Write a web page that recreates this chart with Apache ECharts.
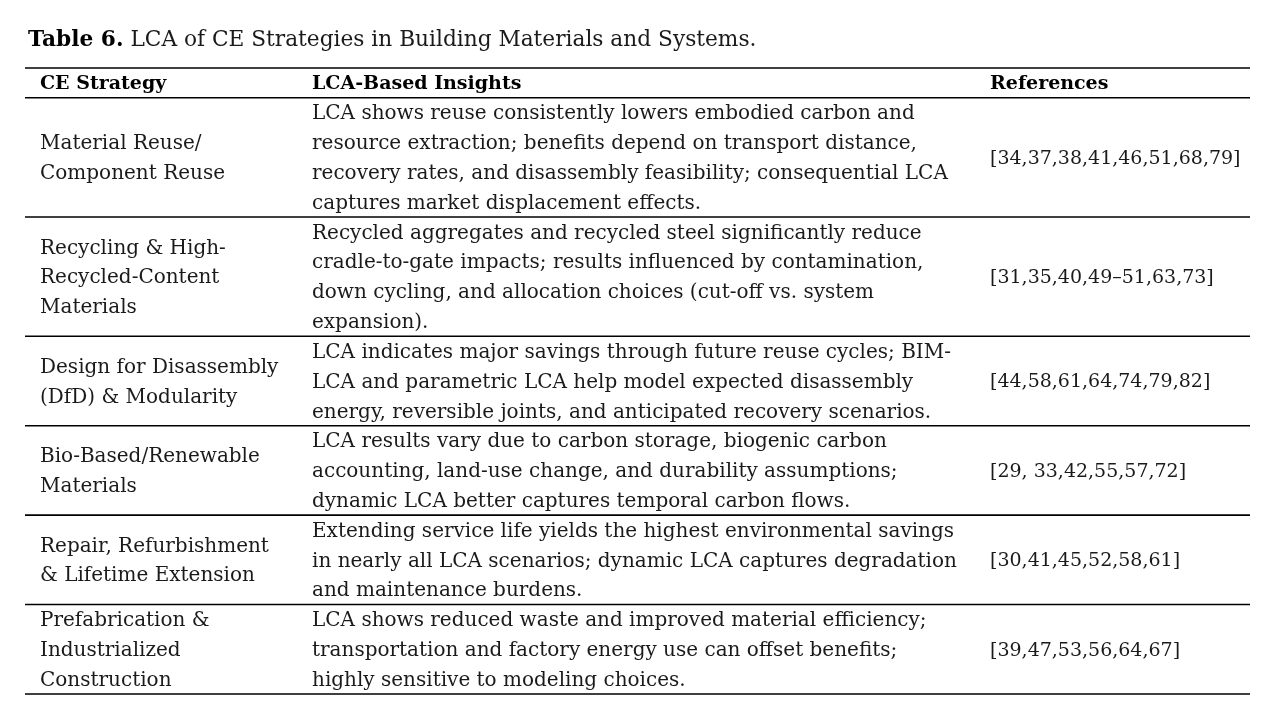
<!DOCTYPE html>
<html><head><meta charset="utf-8">
<script src="https://cdn.jsdelivr.net/npm/echarts@6/dist/echarts.min.js"></script>
<style>html,body{margin:0;padding:0;background:#fff}#c{width:1277px;height:726px}</style>
</head><body><div id="c"></div>
<script>
const titleBold = "Table 6.";
const titleText = " LCA of CE Strategies in Building Materials and Systems.";
const headers = ["CE Strategy", "LCA-Based Insights", "References"];
const strategies = [
  ["Material Reuse/", "Component Reuse"],
  ["Recycling & High-", "Recycled-Content", "Materials"],
  ["Design for Disassembly", "(DfD) & Modularity"],
  ["Bio-Based/Renewable", "Materials"],
  ["Repair, Refurbishment", "& Lifetime Extension"],
  ["Prefabrication &", "Industrialized", "Construction"]
];
const insights = [
  ["LCA shows reuse consistently lowers embodied carbon and",
   "resource extraction; benefits depend on transport distance,",
   "recovery rates, and disassembly feasibility; consequential LCA",
   "captures market displacement effects."],
  ["Recycled aggregates and recycled steel significantly reduce",
   "cradle-to-gate impacts; results influenced by contamination,",
   "down cycling, and allocation choices (cut-off vs. system",
   "expansion)."],
  ["LCA indicates major savings through future reuse cycles; BIM-",
   "LCA and parametric LCA help model expected disassembly",
   "energy, reversible joints, and anticipated recovery scenarios."],
  ["LCA results vary due to carbon storage, biogenic carbon",
   "accounting, land-use change, and durability assumptions;",
   "dynamic LCA better captures temporal carbon flows."],
  ["Extending service life yields the highest environmental savings",
   "in nearly all LCA scenarios; dynamic LCA captures degradation",
   "and maintenance burdens."],
  ["LCA shows reduced waste and improved material efficiency;",
   "transportation and factory energy use can offset benefits;",
   "highly sensitive to modeling choices."]
];
const references = [
  "[34,37,38,41,46,51,68,79]",
  "[31,35,40,49\u201351,63,73]",
  "[44,58,61,64,74,79,82]",
  "[29, 33,42,55,57,72]",
  "[30,41,45,52,58,61]",
  "[39,47,53,56,64,67]"
];

const FONT = '"DejaVu Serif",serif';
const FS = 20;
const FS_HEAD = 19;
const FS_REF = 19;
const COLOR = '#1a1a1a';
const colX = [15, 287, 965];
const tableW = 1225;
const DY = 1.5;

// row layout (in line units) derived from the content
const rowLines = [1].concat(insights.map(r => r.length));
const rowStart = [];
let acc = 0;
rowLines.forEach(n => { rowStart.push(acc); acc += n; });
const total = acc;

const chart = echarts.init(document.getElementById('c'));

function txt(t, p, font, fill) {
  return {type:'text', style:{text:t, x:p[0], y:p[1] + DY, fill:fill, font:font, textVerticalAlign:'middle', textAlign:'left'}};
}

function renderItem(params, api) {
  const i = api.value(0);
  const start = rowStart[i], n = rowLines[i];
  const children = [];
  const lw = 1.6;
  const pL = api.coord([0, start + n]);
  const pR = api.coord([tableW, start + n]);
  children.push({type:'line', shape:{x1:pL[0], y1:pL[1], x2:pR[0], y2:pR[1]}, style:{stroke:'#000', lineWidth:lw}});
  if (i === 0) {
    const tL = api.coord([0, 0]), tR = api.coord([tableW, 0]);
    children.push({type:'line', shape:{x1:tL[0], y1:tL[1], x2:tR[0], y2:tR[1]}, style:{stroke:'#000', lineWidth:lw}});
    headers.forEach((h, c) => {
      children.push(txt(h, api.coord([colX[c], start + 0.5]), 'bold ' + FS_HEAD + 'px ' + FONT, '#000'));
    });
  } else {
    const r = i - 1;
    const center = start + n / 2;
    strategies[r].forEach((t, j) => {
      children.push(txt(t, api.coord([colX[0], center + (j - (strategies[r].length - 1) / 2)]), FS + 'px ' + FONT, COLOR));
    });
    insights[r].forEach((t, j) => {
      children.push(txt(t, api.coord([colX[1], start + j + 0.5]), FS + 'px ' + FONT, COLOR));
    });
    children.push(txt(references[r], api.coord([colX[2], center]), FS_REF + 'px ' + FONT, COLOR));
  }
  return {type:'group', children};
}

chart.setOption({
  animation: false,
  title: {
    text: '{b|' + titleBold + '}{n|' + titleText + '}',
    left: 23, top: 24,
    textStyle: {
      rich: {
        b: {fontFamily: FONT, fontWeight: 'bold', fontSize: 21.7, color: '#000'},
        n: {fontFamily: FONT, fontWeight: 'normal', fontSize: 21.7, color: COLOR}
      }
    }
  },
  grid: {left: 25, top: 68, width: tableW, bottom: 32},
  xAxis: {type:'value', min:0, max:tableW, show:false},
  yAxis: {type:'value', min:0, max:total, inverse:true, show:false},
  series: [{
    type: 'custom',
    renderItem: renderItem,
    data: rowLines.map((n, i) => [i, n]),
    clip: false
  }]
});
</script></body></html>
